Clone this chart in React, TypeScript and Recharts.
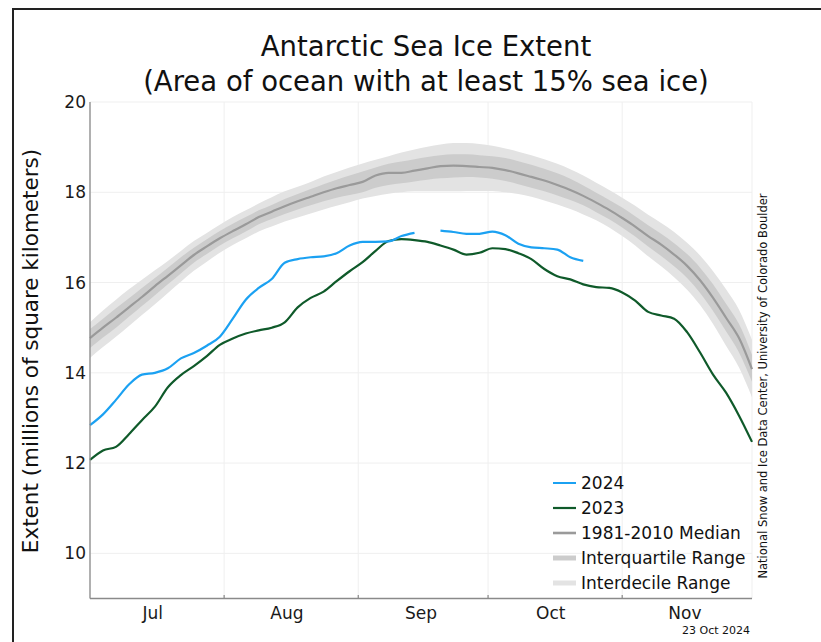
import React from 'react'
import {
  ComposedChart,
  Line,
  Area,
  XAxis,
  YAxis,
  CartesianGrid,
  ReferenceLine
} from 'recharts'

// days since 1 July
const days = [
  0, 3, 6, 9, 12, 15, 18, 21, 24, 27, 30, 33, 36, 39, 42, 45, 48, 51, 54, 57,
  60, 63, 66, 69, 72, 75, 78, 81, 84, 87, 90, 93, 96, 99, 102, 105, 108, 111,
  114, 117, 120, 123, 126, 129, 132, 135, 138, 141, 144, 147, 150, 153
]

const median = [
  14.77, 15.0, 15.22, 15.45, 15.68, 15.92, 16.15, 16.38, 16.61, 16.8, 16.98,
  17.14, 17.29, 17.45, 17.57, 17.69, 17.8, 17.9, 18.0, 18.09, 18.16, 18.23,
  18.37, 18.43, 18.43, 18.48, 18.53, 18.58, 18.59, 18.58, 18.56, 18.54, 18.49,
  18.42, 18.34, 18.26, 18.16, 18.05, 17.92, 17.77, 17.61, 17.43, 17.24, 17.03,
  16.84, 16.62, 16.37, 16.05, 15.66, 15.22, 14.77, 14.08
]

const iqLow = [
  14.55, 14.78, 15.0, 15.24, 15.48, 15.72, 15.96, 16.2, 16.44, 16.63, 16.82,
  16.98, 17.13, 17.29, 17.41, 17.52, 17.62, 17.71, 17.8, 17.88, 17.94, 18.0,
  18.1, 18.16, 18.2, 18.24, 18.28, 18.31, 18.33, 18.34, 18.33, 18.3, 18.25,
  18.18, 18.1, 18.02, 17.93, 17.83, 17.71, 17.56, 17.4, 17.22, 17.02, 16.8,
  16.59, 16.36, 16.1, 15.77, 15.37, 14.92, 14.45, 13.8
]

const iqHigh = [
  14.97, 15.2, 15.43, 15.65, 15.88, 16.1, 16.33, 16.56, 16.77, 16.96, 17.14,
  17.3, 17.45, 17.6, 17.72, 17.85, 17.96, 18.07, 18.18, 18.28, 18.37, 18.46,
  18.55, 18.63, 18.68, 18.73, 18.78, 18.82, 18.84, 18.84, 18.82, 18.8, 18.76,
  18.69, 18.61, 18.52, 18.42, 18.3, 18.15, 17.99, 17.83, 17.66, 17.47, 17.27,
  17.08, 16.87, 16.63, 16.33, 15.96, 15.53, 15.08, 14.4
]

const idLow = [
  14.33, 14.57, 14.8, 15.04, 15.28, 15.52, 15.77, 16.02, 16.26, 16.46, 16.66,
  16.83, 16.98, 17.13, 17.24, 17.35, 17.44, 17.53, 17.62, 17.7, 17.78, 17.86,
  17.92, 17.97, 18.0, 18.02, 18.02, 18.02, 18.02, 18.03, 18.03, 18.03, 18.0,
  17.96, 17.9, 17.82, 17.73, 17.63, 17.51, 17.38, 17.22, 17.03, 16.82, 16.58,
  16.36, 16.12, 15.84, 15.5, 15.08, 14.6, 14.12, 13.46
]

const idHigh = [
  15.12, 15.38, 15.62, 15.85, 16.06, 16.27, 16.48, 16.7, 16.92, 17.1, 17.28,
  17.45, 17.6, 17.75, 17.89, 18.02, 18.12, 18.23, 18.35, 18.45, 18.55, 18.64,
  18.72, 18.8, 18.88, 18.95, 19.01, 19.06, 19.09, 19.09, 19.07, 19.03, 18.97,
  18.9, 18.82, 18.73, 18.63, 18.51, 18.37, 18.21, 18.05, 17.88, 17.7, 17.5,
  17.32, 17.12, 16.88, 16.6, 16.25, 15.85, 15.4, 14.73
]

const ext2023 = [
  12.07, 12.28, 12.36, 12.64, 12.95, 13.25, 13.68, 13.95, 14.15, 14.37, 14.62,
  14.76, 14.87, 14.94, 15.0, 15.12, 15.45, 15.66, 15.8, 16.03, 16.25, 16.45,
  16.7, 16.92, 16.96, 16.94, 16.9, 16.82, 16.73, 16.62, 16.66, 16.76, 16.74,
  16.65, 16.52, 16.3, 16.14, 16.07, 15.96, 15.9, 15.88, 15.78, 15.6, 15.35,
  15.27, 15.2, 14.9, 14.45, 13.96, 13.56, 13.05, 12.47
]

const ext2024 = [
  12.84, 13.08, 13.4, 13.74, 13.96, 14.0, 14.1, 14.32, 14.44, 14.6, 14.8,
  15.2, 15.62, 15.88, 16.08, 16.44, 16.52, 16.56, 16.58, 16.65, 16.82, 16.9,
  16.9, 16.91, 17.03, 17.1, null, 17.15, 17.12, 17.08, 17.08, 17.13, 17.05,
  16.86, 16.78, 16.76, 16.73, 16.56, 16.48, null, null, null, null, null,
  null, null, null, null, null, null, null, null
]

const monthStarts = [0, 31, 62, 92, 123, 153]
const monthLabels = ['Jul', 'Aug', 'Sep', 'Oct', 'Nov']
const yTicks = [10, 12, 14, 16, 18, 20]

const legendItems = [
  { label: '2024', color: '#1ba1f2', width: 2 },
  { label: '2023', color: '#0f5a2a', width: 2.2 },
  { label: '1981-2010 Median', color: '#9a9a9a', width: 2.6 },
  { label: 'Interquartile Range', color: '#cccccc', width: 5 },
  { label: 'Interdecile Range', color: '#e3e3e3', width: 5 }
]

const rows = days.map((d, i) => ({
  day: d,
  med: median[i],
  iq: [iqLow[i], iqHigh[i]],
  id: [idLow[i], idHigh[i]],
  y2023: ext2023[i],
  y2024: ext2024[i]
}))

const monthCenters = monthLabels.map((_, i) => monthStarts[i] + 14.5)
const boundaries = monthStarts.slice(1, -1)

const FONT = '"DejaVu Sans", sans-serif'

export default function App() {
  return (
    <div
      style={{
        position: 'absolute',
        left: 0,
        top: 0,
        width: 821,
        height: 642,
        background: '#fff',
        overflow: 'hidden',
        fontFamily: FONT
      }}
    >
      <div
        style={{
          position: 'absolute',
          left: 12,
          top: 8,
          width: 900,
          height: 700,
          borderLeft: '2px solid #222',
          borderTop: '2px solid #222'
        }}
      />
      <div style={{ position: 'absolute', left: 0, top: 0 }}>
        <ComposedChart
          width={821}
          height={642}
          data={rows}
          margin={{ top: 102, right: 69, bottom: 13.5, left: 40 }}
        >
          <CartesianGrid vertical={false} stroke="#efefef" strokeWidth={1} />
          <CartesianGrid
            horizontal={false}
            xAxisId="grid"
            stroke="#efefef"
            strokeWidth={1}
          />
          <XAxis
            xAxisId="grid"
            dataKey="day"
            type="number"
            domain={[0, 153]}
            ticks={boundaries}
            interval={0}
            hide
          />
          <XAxis
            dataKey="day"
            type="number"
            domain={[0, 153]}
            ticks={monthCenters}
            interval={0}
            tickFormatter={(_v: number, i: number) => monthLabels[i]}
            tickLine={false}
            axisLine={{ stroke: '#8a8a8a', strokeWidth: 1.3 }}
            tick={{ fill: '#1a1a1a', fontSize: 17, fontFamily: FONT }}
            height={30}
          />
          <YAxis
            type="number"
            domain={[9, 20]}
            ticks={yTicks}
            interval={0}
            tickLine={false}
            tickSize={4}
            tickMargin={0}
            axisLine={{ stroke: '#8a8a8a', strokeWidth: 1.3 }}
            tick={{ fill: '#1a1a1a', fontSize: 17, fontFamily: FONT }}
            width={50}
          />
          <Area
            type="monotone"
            dataKey="id"
            stroke="none"
            fill="#e3e3e3"
            fillOpacity={1}
            isAnimationActive={false}
          />
          <Area
            type="monotone"
            dataKey="iq"
            stroke="none"
            fill="#cccccc"
            fillOpacity={1}
            isAnimationActive={false}
          />
          <Line
            type="monotone"
            dataKey="med"
            stroke="#9a9a9a"
            strokeWidth={2.2}
            dot={false}
            isAnimationActive={false}
          />
          <Line
            type="monotone"
            dataKey="y2023"
            stroke="#0f5a2a"
            strokeWidth={2.2}
            dot={false}
            isAnimationActive={false}
          />
          <Line
            type="monotone"
            dataKey="y2024"
            stroke="#1ba1f2"
            strokeWidth={2.2}
            dot={false}
            connectNulls={false}
            isAnimationActive={false}
          />
          {boundaries.map((d) => (
            <ReferenceLine
              key={'t' + d}
              segment={[
                { x: d, y: 9 },
                { x: d, y: 9.08 }
              ]}
              stroke="#8a8a8a"
              strokeWidth={1.2}
            />
          ))}
        </ComposedChart>
      </div>
      <svg
        width={821}
        height={642}
        style={{ position: 'absolute', left: 0, top: 0, pointerEvents: 'none' }}
        fontFamily={FONT}
      >
        <text x={426} y={56} textAnchor="middle" fontSize={27.5} fill="#111">
          Antarctic Sea Ice Extent
        </text>
        <text x={426} y={91} textAnchor="middle" fontSize={27.5} fill="#111">
          (Area of ocean with at least 15% sea ice)
        </text>
        <text
          transform="translate(38,351) rotate(-90)"
          textAnchor="middle"
          fontSize={21.5}
          fill="#111"
        >
          Extent (millions of square kilometers)
        </text>
        <text
          transform="translate(767,386) rotate(-90)"
          textAnchor="middle"
          fontSize={11.5}
          fill="#111"
        >
          National Snow and Ice Data Center, University of Colorado Boulder
        </text>
        <text x={750} y={634} textAnchor="end" fontSize={11} fill="#111">
          23 Oct 2024
        </text>
        {legendItems.map((item, i) => (
          <g key={item.label}>
            <line
              x1={553}
              x2={576}
              y1={483 + i * 25}
              y2={483 + i * 25}
              stroke={item.color}
              strokeWidth={item.width}
            />
            <text x={581} y={483 + i * 25 + 6} fontSize={17} fill="#111">
              {item.label}
            </text>
          </g>
        ))}
      </svg>
    </div>
  )
}
